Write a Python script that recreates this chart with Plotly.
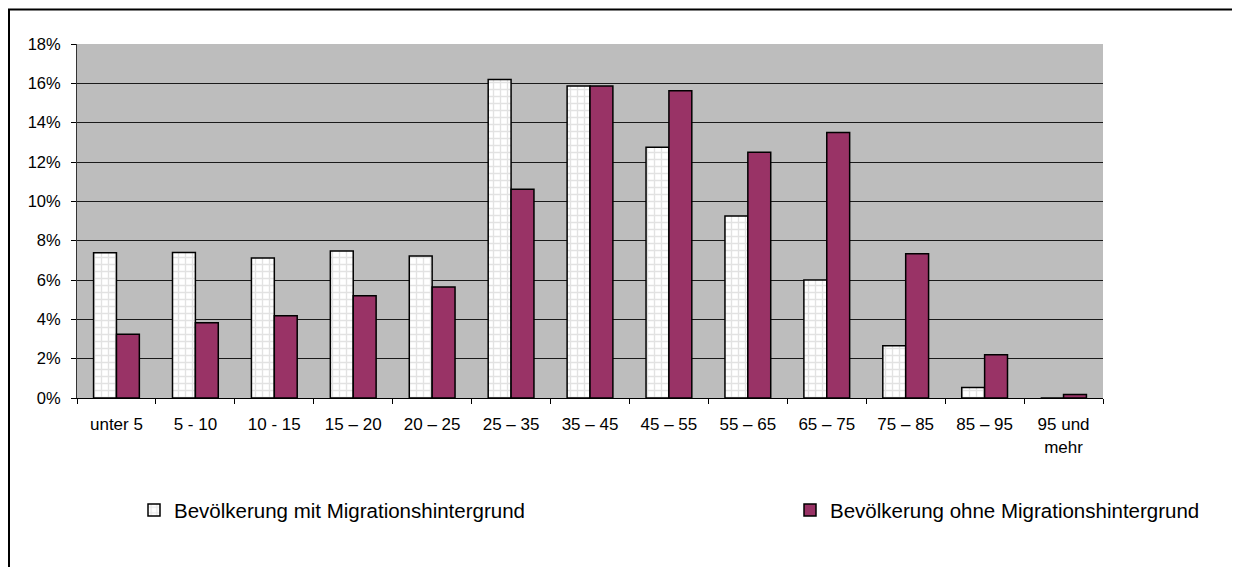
import plotly.graph_objects as go

categories = ["unter 5", "5 - 10", "10 - 15", "15 – 20", "20 – 25", "25 – 35", "35 – 45",
              "45 – 55", "55 – 65", "65 – 75", "75 – 85", "85 – 95", "95 und<br>mehr"]
mit_migration = [7.39, 7.40, 7.12, 7.48, 7.22, 16.2, 15.87, 12.75, 9.25, 6.0, 2.66, 0.53, 0.0]
ohne_migration = [3.24, 3.83, 4.18, 5.2, 5.65, 10.62, 15.87, 15.62, 12.5, 13.5, 7.33, 2.2, 0.18]
series_names = ["Bevölkerung mit Migrationshintergrund", "Bevölkerung ohne Migrationshintergrund"]
y_ticks = [0, 2, 4, 6, 8, 10, 12, 14, 16, 18]
y_tick_labels = [f"{v}%" for v in y_ticks]

# page body has an 8px margin; work in figure coordinates
OFF = 8
W, H = 1240 - OFF, 567 - OFF
L, R, T, B = 77 - OFF, 1103 - OFF, 43.5 - OFF, 398.5 - OFF
pw, ph = R - L, B - T


def px_x(x):
    return (x - L) / pw


def px_y(y):
    return (B - y) / ph


fig = go.Figure()
fig.add_trace(go.Bar(
    x=categories, y=mit_migration, name=series_names[0], legend="legend",
    marker=dict(color="white", line=dict(color="black", width=1.5),
                pattern=dict(shape="+", fgcolor="#c6c6c6", bgcolor="white", size=7, solidity=0.35)),
))
fig.add_trace(go.Bar(
    x=categories, y=ohne_migration, name=series_names[1], legend="legend2",
    marker=dict(color="#993366", line=dict(color="black", width=1.5)),
))

legend_common = dict(orientation="h", xanchor="left", yanchor="middle",
                     font=dict(size=20.5, color="black"), bgcolor="rgba(0,0,0,0)")

fig.update_layout(
    width=W, height=H,
    margin=dict(l=L, r=W - R, t=T, b=H - B, pad=0),
    paper_bgcolor="white", plot_bgcolor="#bdbdbd",
    barmode="group", bargap=0.42, bargroupgap=0,
    font=dict(family="Liberation Sans, Arial, sans-serif", color="black"),
    showlegend=True,
    legend=dict(x=px_x(134 - OFF), y=px_y(511 - OFF), **legend_common),
    legend2=dict(x=px_x(790 - OFF), y=px_y(511 - OFF), **legend_common),
    xaxis=dict(type="category", tickson="boundaries", ticks="outside", ticklen=5, tickcolor="black",
               showline=True, linecolor="black", linewidth=1, tickfont=dict(size=17),
               showgrid=False, zeroline=False, tickangle=0, ticklabelstandoff=11),
    yaxis=dict(range=[0, 18], tickmode="array", tickvals=y_ticks, ticktext=y_tick_labels,
               ticks="outside", ticklen=5, ticklabelstandoff=7,
               tickcolor="black", showline=True, linecolor="#333333", linewidth=1,
               showgrid=True, gridcolor="#1a1a1a", gridwidth=1, zeroline=False,
               tickfont=dict(size=16.5)),
    shapes=[dict(type="rect", xref="paper", yref="paper",
                 x0=px_x(9 - OFF), x1=px_x(1236 - OFF), y0=px_y(575 - OFF), y1=px_y(9 - OFF),
                 line=dict(color="black", width=2), fillcolor="rgba(0,0,0,0)", layer="above")],
)

fig.write_html("out.html")
